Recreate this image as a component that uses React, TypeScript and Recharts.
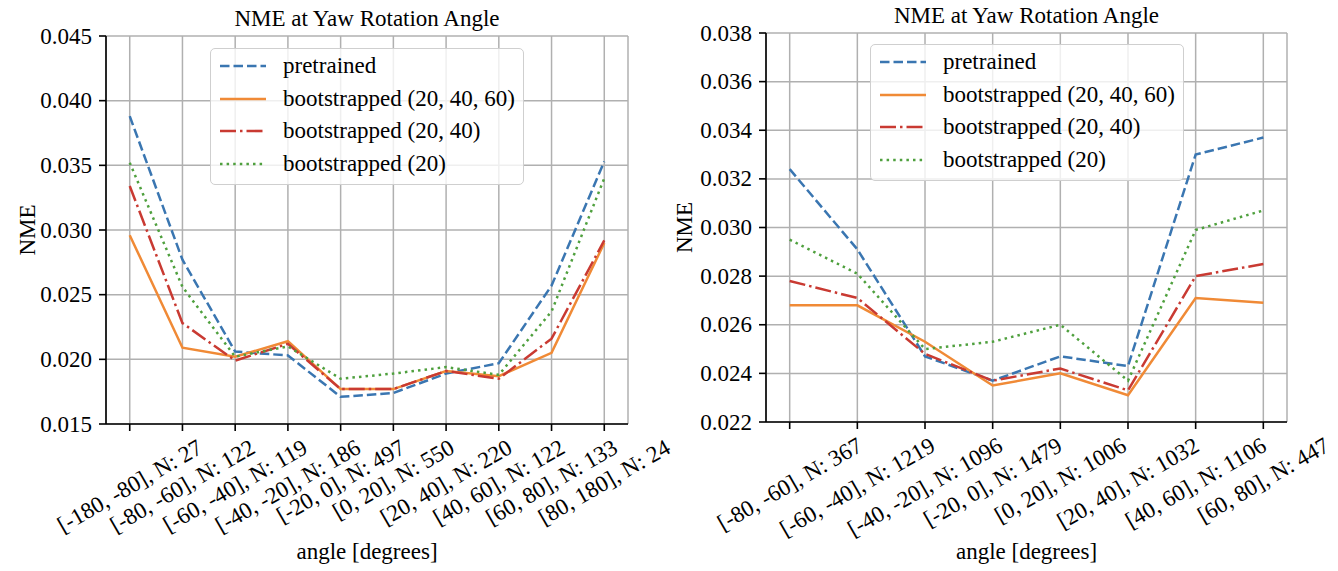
import React from 'react';
import { CartesianGrid, Legend, Line, LineChart, XAxis, YAxis } from 'recharts';

// left panel: all yaw bins
const leftBins = [
  '[-180, -80], N: 27',
  '[-80, -60], N: 122',
  '[-60, -40], N: 119',
  '[-40, -20], N: 186',
  '[-20, 0], N: 497',
  '[0, 20], N: 550',
  '[20, 40], N: 220',
  '[40, 60], N: 122',
  '[60, 80], N: 133',
  '[80, 180], N: 24'
];
const leftPretrained = [0.0388, 0.0277, 0.0206, 0.0203, 0.0171, 0.0174, 0.0189, 0.0197, 0.0257, 0.0353];
const leftBoot204060 = [0.0296, 0.0209, 0.0202, 0.0214, 0.0177, 0.0177, 0.0191, 0.0187, 0.0205, 0.029];
const leftBoot2040 = [0.0334, 0.0228, 0.0199, 0.0212, 0.0177, 0.0177, 0.0191, 0.0185, 0.0216, 0.0292];
const leftBoot20 = [0.0352, 0.0256, 0.0202, 0.021, 0.0185, 0.0189, 0.0194, 0.0188, 0.0237, 0.034];
const leftTicks = [0.015, 0.02, 0.025, 0.03, 0.035, 0.04, 0.045];

// right panel
const rightBins = [
  '[-80, -60], N: 367',
  '[-60, -40], N: 1219',
  '[-40, -20], N: 1096',
  '[-20, 0], N: 1479',
  '[0, 20], N: 1006',
  '[20, 40], N: 1032',
  '[40, 60], N: 1106',
  '[60, 80], N: 447'
];
const rightPretrained = [0.0324, 0.0291, 0.0247, 0.0237, 0.0247, 0.0243, 0.033, 0.0337];
const rightBoot204060 = [0.0268, 0.0268, 0.0253, 0.0235, 0.024, 0.0231, 0.0271, 0.0269];
const rightBoot2040 = [0.0278, 0.0271, 0.0248, 0.0237, 0.0242, 0.0233, 0.028, 0.0285];
const rightBoot20 = [0.0295, 0.0281, 0.025, 0.0253, 0.026, 0.0237, 0.0299, 0.0307];
const rightTicks = [0.022, 0.024, 0.026, 0.028, 0.03, 0.032, 0.034, 0.036, 0.038];

const SERIES = [
  { key: 'pretrained', color: '#3a76b1', dash: '9.5 4' },
  { key: 'bootstrapped (20, 40, 60)', color: '#f08a36', dash: undefined },
  { key: 'bootstrapped (20, 40)', color: '#c93a32', dash: '16 4 2.5 4' },
  { key: 'bootstrapped (20)', color: '#4fa03e', dash: '2.5 4.1' }
];

const FONT = '"Liberation Serif", "Times New Roman", serif';
const FS = 23;
const txt = { fontFamily: FONT, fontSize: FS, fill: '#000' };

let ctx: CanvasRenderingContext2D | null = null;
const textWidth = (s: string) => {
  if (!ctx) {
    ctx = document.createElement('canvas').getContext('2d');
    if (ctx) ctx.font = `${FS}px "Liberation Serif"`;
  }
  const w = ctx ? ctx.measureText(s).width : 0;
  return w > 20 ? w : s.length * FS * 0.42;
};

const buildRows = (bins: string[], cols: number[][]) =>
  bins.map((bin, i) => {
    const row: any = { bin };
    SERIES.forEach((s, j) => (row[s.key] = cols[j][i]));
    return row;
  });

// matplotlib style: rotated 30deg, bbox centred under the tick
const RotatedTick = (props: any) => {
  const { x, y, payload } = props;
  const w = textWidth(payload.value);
  const h = FS * 1.05;
  const rad = Math.PI / 6;
  const H = w * Math.sin(rad) + h * Math.cos(rad);
  const cy = y + H / 2;
  return (
    <text
      x={x}
      y={cy}
      textAnchor="middle"
      dominantBaseline="central"
      style={txt}
      transform={`rotate(-30 ${x} ${cy})`}
    >
      {payload.value}
    </text>
  );
};

const ValueTick = (props: any) => {
  const { x, y, payload } = props;
  return (
    <text x={x} y={y} textAnchor="end" dominantBaseline="central" style={txt}>
      {Number(payload.value).toFixed(3)}
    </text>
  );
};

const LegendBox = () => (
  <div
    style={{
      boxSizing: 'border-box',
      width: '100%',
      height: '100%',
      border: '1.5px solid #cfcfcf',
      borderRadius: 5,
      background: 'rgba(255,255,255,0.8)',
      paddingTop: 1,
      fontFamily: FONT,
      fontSize: FS
    }}
  >
    {SERIES.map((s) => (
      <div key={s.key} style={{ height: 32.5, display: 'flex', alignItems: 'center' }}>
        <svg width={46} height={10} style={{ marginLeft: 9, flex: 'none' }}>
          <line x1={0} y1={5} x2={46} y2={5} stroke={s.color} strokeWidth={2.6} strokeDasharray={s.dash} />
        </svg>
        <span style={{ marginLeft: 17, whiteSpace: 'nowrap', color: '#000' }}>{s.key}</span>
      </div>
    ))}
  </div>
);

interface PanelProps {
  width: number;
  bins: string[];
  cols: number[][];
  ticks: number[];
  plotLeft: number;
  plotRight: number;
  plotTop: number;
  plotBottom: number;
  legendLeft: number;
  legendTop: number;
  ylabelX: number;
}

const H = 571;

const NmePanel = (p: PanelProps) => {
  const data = buildRows(p.bins, p.cols);
  const domain = [p.ticks[0], p.ticks[p.ticks.length - 1]];
  const plotW = p.plotRight - p.plotLeft;
  const pad = (plotW * 0.05) / 1.1;
  const midX = (p.plotLeft + p.plotRight) / 2;
  const midY = (p.plotTop + p.plotBottom) / 2;
  return (
    <LineChart
      width={p.width}
      height={H}
      data={data}
      style={{ overflow: 'visible' }}
      margin={{ top: p.plotTop, right: p.width - p.plotRight, left: 0, bottom: 0 }}
    >
      <CartesianGrid stroke="#b0b0b0" strokeWidth={1.5} />
      <XAxis
        dataKey="bin"
        height={H - p.plotBottom}
        interval={0}
        padding={{ left: pad, right: pad }}
        tick={<RotatedTick />}
        tickSize={7}
        tickMargin={4}
        axisLine={{ stroke: '#000', strokeWidth: 1.6 }}
        tickLine={{ stroke: '#000', strokeWidth: 1.6 }}
        label={{
          content: () => (
            <g>
              <text x={midX} y={551} textAnchor="middle" dominantBaseline="central" style={txt}>
                angle [degrees]
              </text>
              <text x={midX} y={p.plotTop - 10} textAnchor="middle" style={txt}>
                NME at Yaw Rotation Angle
              </text>
            </g>
          )
        }}
      />
      <XAxis
        xAxisId="top"
        dataKey="bin"
        orientation="top"
        height={0}
        tick={false}
        tickLine={false}
        padding={{ left: pad, right: pad }}
        axisLine={{ stroke: '#000', strokeWidth: 1.6 }}
      />
      <YAxis
        type="number"
        domain={domain}
        ticks={p.ticks}
        allowDataOverflow
        width={p.plotLeft}
        tick={<ValueTick />}
        tickSize={7}
        tickMargin={7}
        axisLine={{ stroke: '#000', strokeWidth: 1.6 }}
        tickLine={{ stroke: '#000', strokeWidth: 1.6 }}
        label={{
          content: () => (
            <text
              x={p.ylabelX}
              y={midY}
              textAnchor="middle"
              dominantBaseline="central"
              style={txt}
              transform={`rotate(-90 ${p.ylabelX} ${midY})`}
            >
              NME
            </text>
          )
        }}
      />
      <YAxis
        yAxisId="right"
        orientation="right"
        type="number"
        domain={domain}
        width={0}
        tick={false}
        tickLine={false}
        axisLine={{ stroke: '#000', strokeWidth: 1.6 }}
      />
      {SERIES.map((s) => (
        <Line
          key={s.key}
          type="linear"
          dataKey={s.key}
          stroke={s.color}
          strokeWidth={2.5}
          strokeDasharray={s.dash}
          dot={false}
          isAnimationActive={false}
        />
      ))}
      <Legend
        layout="horizontal"
        verticalAlign="middle"
        align="center"
        wrapperStyle={{ position: 'absolute', left: p.legendLeft, top: p.legendTop, width: 314, height: 137 }}
        content={() => <LegendBox />}
      />
    </LineChart>
  );
};

export default function App() {
  return (
    <div style={{ position: 'absolute', left: 0, top: 0, width: 1338, height: 571, background: '#fff', fontFamily: FONT }}>
      <div style={{ position: 'absolute', left: 0, top: 0 }}>
        <NmePanel
          width={700}
          bins={leftBins}
          cols={[leftPretrained, leftBoot204060, leftBoot2040, leftBoot20]}
          ticks={leftTicks}
          plotLeft={106}
          plotRight={628}
          plotTop={36}
          plotBottom={424}
          legendLeft={210}
          legendTop={48}
          ylabelX={27}
        />
      </div>
      <div style={{ position: 'absolute', left: 669, top: 0 }}>
        <NmePanel
          width={669}
          bins={rightBins}
          cols={[rightPretrained, rightBoot204060, rightBoot2040, rightBoot20]}
          ticks={rightTicks}
          plotLeft={97}
          plotRight={618}
          plotTop={33}
          plotBottom={422}
          legendLeft={201}
          legendTop={44}
          ylabelX={15}
        />
      </div>
    </div>
  );
}
